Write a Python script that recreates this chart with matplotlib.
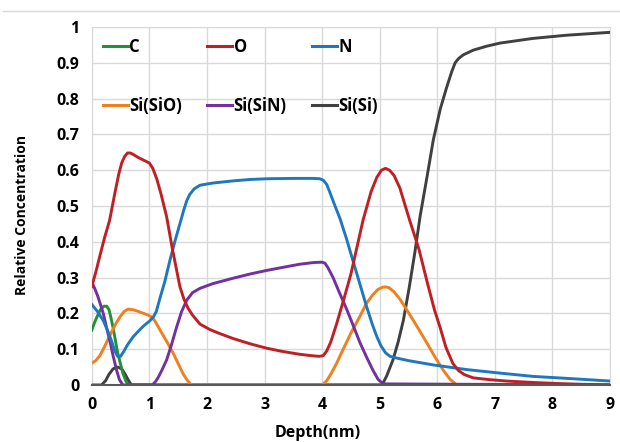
import matplotlib.pyplot as plt
from matplotlib.lines import Line2D

plt.rcParams['font.family'] = ['Open Sans', 'DejaVu Sans']
plt.rcParams['font.weight'] = 'bold'

# depth (nm) / concentration pairs
c_x = [0, 0.05, 0.09, 0.15, 0.21, 0.26, 0.3, 0.33, 0.37, 0.41, 0.45, 0.5, 0.54, 0.59, 0.63, 9]
c_y = [0.153, 0.175, 0.19, 0.21, 0.22, 0.22, 0.21, 0.19, 0.16, 0.125, 0.09, 0.058, 0.033,
       0.012, 0, 0]

o_x = [0, 0.07, 0.14, 0.22, 0.31, 0.40, 0.47, 0.52, 0.57, 0.62, 0.67, 0.73, 0.8, 0.9, 1.0,
       1.06, 1.13, 1.2, 1.3, 1.4, 1.53, 1.6, 1.67, 1.75, 1.88, 2.05, 2.2, 2.45, 2.75, 3.03,
       3.3, 3.6, 3.8, 3.95, 4.02, 4.08, 4.15, 4.25, 4.36, 4.5, 4.71, 4.85, 4.95, 5.03, 5.1,
       5.17, 5.25, 5.35, 5.52, 5.68, 5.82, 5.95, 6.05, 6.15, 6.27, 6.37, 6.47, 6.62, 6.9,
       7.2, 7.66, 8.1, 8.5, 9]
o_y = [0.275, 0.315, 0.36, 0.41, 0.46, 0.535, 0.59, 0.62, 0.638, 0.648, 0.648, 0.643, 0.636,
       0.628, 0.62, 0.605, 0.575, 0.535, 0.47, 0.38, 0.275, 0.24, 0.215, 0.195, 0.17, 0.155,
       0.145, 0.13, 0.115, 0.103, 0.094, 0.086, 0.082, 0.08, 0.082, 0.095, 0.12, 0.17, 0.23,
       0.31, 0.46, 0.54, 0.58, 0.6, 0.605, 0.6, 0.585, 0.55, 0.46, 0.38, 0.29, 0.21, 0.16,
       0.105, 0.06, 0.04, 0.029, 0.02, 0.015, 0.011, 0.007, 0.004, 0.002, 0]

n_x = [0, 0.1, 0.2, 0.28, 0.35, 0.4, 0.45, 0.5, 0.55, 0.62, 0.72, 0.82, 0.9, 1.0, 1.07, 1.12,
       1.18, 1.27, 1.36, 1.45, 1.53, 1.6, 1.65, 1.7, 1.78, 1.88, 2.1, 2.45, 2.75, 3.04, 3.5,
       3.85, 3.96, 4.02, 4.08, 4.13, 4.2, 4.31, 4.42, 4.53, 4.65, 4.77, 4.87, 4.95, 5.02,
       5.1, 5.18, 5.3, 5.5, 5.93, 6.51, 7.1, 7.66, 8.3, 9]
n_y = [0.225, 0.205, 0.18, 0.15, 0.12, 0.095, 0.08, 0.08, 0.092, 0.112, 0.135, 0.152, 0.165,
       0.178, 0.19, 0.205, 0.24, 0.29, 0.35, 0.405, 0.45, 0.49, 0.515, 0.532, 0.548, 0.558,
       0.564, 0.57, 0.574, 0.576, 0.577, 0.577, 0.576, 0.572, 0.56, 0.54, 0.51, 0.465, 0.41,
       0.35, 0.285, 0.22, 0.17, 0.135, 0.11, 0.09, 0.08, 0.075, 0.068, 0.056, 0.043, 0.033,
       0.024, 0.018, 0.011]

sio_x = [0, 0.07, 0.14, 0.2, 0.26, 0.35, 0.42, 0.49, 0.56, 0.63, 0.72, 0.8, 0.9, 0.98, 1.04,
         1.1, 1.18, 1.3, 1.41, 1.5, 1.58, 1.65, 1.73, 4.0, 4.08, 4.15, 4.25, 4.36, 4.5, 4.65,
         4.77, 4.88, 4.97, 5.05, 5.1, 5.16, 5.25, 5.35, 5.47, 5.65, 5.82, 5.96, 6.1, 6.22,
         6.34, 9]
sio_y = [0.061, 0.068, 0.082, 0.1, 0.12, 0.15, 0.172, 0.19, 0.205, 0.212, 0.21, 0.206, 0.2,
         0.195, 0.19, 0.178, 0.155, 0.122, 0.09, 0.06, 0.033, 0.015, 0, 0, 0.012, 0.03, 0.06,
         0.098, 0.145, 0.19, 0.228, 0.252, 0.267, 0.273, 0.274, 0.272, 0.26, 0.24, 0.21,
         0.163, 0.117, 0.078, 0.042, 0.016, 0, 0]

sin_x = [0, 0.05, 0.1, 0.15, 0.2, 0.25, 0.31, 0.37, 0.43, 0.48, 0.54, 1.05, 1.1, 1.15, 1.22,
         1.3, 1.38, 1.47, 1.56, 1.65, 1.75, 1.88, 2.1, 2.45, 2.75, 3.04, 3.3, 3.6, 3.85, 4.0,
         4.05, 4.1, 4.19, 4.3, 4.43, 4.55, 4.66, 4.78, 4.88, 4.97, 5.06, 9]
sin_y = [0.288, 0.27, 0.25, 0.225, 0.2, 0.165, 0.126, 0.082, 0.042, 0.015, 0, 0, 0.008, 0.02,
         0.042, 0.07, 0.11, 0.16, 0.205, 0.237, 0.258, 0.27, 0.283, 0.298, 0.31, 0.32, 0.328,
         0.337, 0.342, 0.343, 0.34, 0.328, 0.3, 0.258, 0.21, 0.162, 0.117, 0.075, 0.042, 0.016,
         0.003, 0]

si_x = [0, 0.17, 0.24, 0.3, 0.37, 0.45, 0.52, 0.58, 0.64, 0.69, 5.04, 5.12, 5.23, 5.32, 5.41,
        5.51, 5.61, 5.7, 5.82, 5.93, 6.05, 6.16, 6.25, 6.31, 6.37, 6.45, 6.62, 6.85, 7.09,
        7.66, 8.25, 9]
si_y = [0, 0, 0.012, 0.03, 0.045, 0.05, 0.045, 0.03, 0.012, 0, 0, 0.025, 0.07, 0.12, 0.18,
        0.27, 0.37, 0.47, 0.58, 0.684, 0.77, 0.83, 0.875, 0.9, 0.912, 0.922, 0.935, 0.946,
        0.955, 0.968, 0.977, 0.985]

y_ticks = [0, 0.1, 0.2, 0.3, 0.4, 0.5, 0.6, 0.7, 0.8, 0.9, 1]
y_labels = ['0', '0.1', '0.2', '0.3', '0.4', '0.5', '0.6', '0.7', '0.8', '0.9', '1']
x_ticks = list(range(10))

fig = plt.figure(figsize=(6.2, 4.42), dpi=100)
ax = fig.add_axes([0.148, 0.129, 0.836, 0.81])

lw = 2.1
series = [
    (c_x, c_y, '#23903A', 'C'),
    (sio_x, sio_y, '#F07F1E', 'Si(SiO)'),
    (o_x, o_y, '#BE2026', 'O'),
    (sin_x, sin_y, '#7230A0', 'Si(SiN)'),
    (n_x, n_y, '#1F78BE', 'N'),
    (si_x, si_y, '#404040', 'Si(Si)'),
]
# draw order roughly like the reference
for idx in [5, 0, 1, 3, 4, 2]:
    x, y, col, lab = series[idx]
    ax.plot(x, y, color=col, lw=lw, solid_joinstyle='round', zorder=3)

handles = [Line2D([], [], color=s[2], lw=2.2) for s in series]
labels = [s[3] for s in series]
ax.legend(handles, labels, ncol=3, loc='upper left', bbox_to_anchor=(0.0, 1.0),
          frameon=False, fontsize=12, handlelength=1.5, handletextpad=0.1,
          columnspacing=1.5, labelspacing=2.45, borderaxespad=0.25)

ax.set_xlim(0, 9)
ax.set_ylim(0, 1)
ax.set_xticks(x_ticks)
ax.set_yticks(y_ticks)
ax.set_yticklabels(y_labels)
ax.tick_params(length=0, labelsize=11.5, pad=9)
ax.grid(True, color='#D9D9D9', lw=1)
ax.set_axisbelow(True)
for side in ['left', 'right', 'top']:
    ax.spines[side].set_color('#D9D9D9')
ax.spines['bottom'].set_color('#595959')
ax.spines['bottom'].set_linewidth(1.5)
ax.spines['bottom'].set_zorder(4)

ax.set_xlabel('Depth(nm)', fontsize=11.5, fontweight='bold')
ax.set_ylabel('Relative Concentration', fontsize=10, fontweight='bold')
ax.xaxis.set_label_coords(0.435, -0.112)
ax.yaxis.set_label_coords(-0.122, 0.475)

fig.add_artist(Line2D([0.005, 1.0], [0.975, 0.975], color='#D9D9D9', lw=1,
                      transform=fig.transFigure))

fig.savefig('out.png', dpi=100)
